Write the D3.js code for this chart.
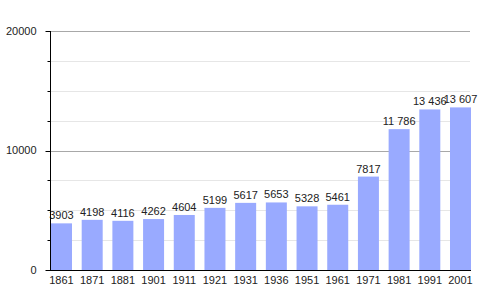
<!DOCTYPE html>
<html>
<head>
<meta charset="utf-8">
<script src="https://cdn.jsdelivr.net/npm/d3@7"></script>
<style>
  body { margin: 0; background: #fff; }
  text { font-family: "Liberation Sans", Arial, sans-serif; fill: #222; }
</style>
</head>
<body>
<div id="chart"></div>
<script>
// DATA
const years = ["1861", "1871", "1881", "1901", "1911", "1921", "1931", "1936", "1951", "1961", "1971", "1981", "1991", "2001"]
const population = [3903, 4198, 4116, 4262, 4604, 5199, 5617, 5653, 5328, 5461, 7817, 11786, 13436, 13607]
const majorTicks = [0, 10000, 20000]
const minorTicks = [2500, 5000, 7500, 12500, 15000, 17500]

// DIMENSIONS
const dimensions = {
  width: 500,
  height: 300,
  margin: { top: 31, right: 29, bottom: 30, left: 50 },
}

const wrapper = d3.select("#chart")
  .append("svg")
  .attr("width", dimensions.width)
  .attr("height", dimensions.height)

const xScale = d3.scaleBand()
  .domain(years)
  .range([dimensions.margin.left + 1, dimensions.width - dimensions.margin.right])
  .paddingInner(0.316)
  .paddingOuter(0)

const yScale = d3.scaleLinear()
  .domain([0, 20000])
  .range([dimensions.height - dimensions.margin.bottom, dimensions.margin.top])

const gridRight = dimensions.width - dimensions.margin.right - 1

// GRID
const grid = wrapper.append("g")
grid.selectAll("line.minor")
  .data(minorTicks)
  .join("line")
    .attr("class", "minor")
    .attr("x1", dimensions.margin.left)
    .attr("x2", gridRight)
    .attr("y1", d => Math.round(yScale(d)) + 0.5)
    .attr("y2", d => Math.round(yScale(d)) + 0.5)
    .attr("stroke", "#e6e6e6")
grid.selectAll("line.major")
  .data(majorTicks.filter(d => d > 0))
  .join("line")
    .attr("class", "major")
    .attr("x1", dimensions.margin.left)
    .attr("x2", gridRight)
    .attr("y1", d => Math.round(yScale(d)) + 0.5)
    .attr("y2", d => Math.round(yScale(d)) + 0.5)
    .attr("stroke", "#a8a8a8")

// BARS
wrapper.append("g")
  .selectAll("rect")
  .data(population)
  .join("rect")
    .attr("x", (d, i) => xScale(years[i]))
    .attr("y", d => yScale(d))
    .attr("width", xScale.bandwidth())
    .attr("height", d => yScale(0) - yScale(d))
    .attr("fill", "#99aaff")

// VALUE LABELS
const fmt = d => d >= 10000 ? d3.format(",")(d).replace(",", " ") : String(d)
wrapper.append("g")
  .selectAll("text")
  .data(population)
  .join("text")
    .attr("x", (d, i) => xScale(years[i]) + xScale.bandwidth() / 2)
    .attr("y", d => yScale(d) - 4)
    .attr("text-anchor", "middle")
    .style("font-size", "11px")
    .style("white-space", "pre")
    .text(fmt)

// Y AXIS
const yAxis = wrapper.append("g")
  .attr("transform", `translate(${dimensions.margin.left + 0.5},0)`)
yAxis.append("line")
  .attr("y1", yScale(20000))
  .attr("y2", yScale(0))
  .attr("stroke", "#000")
yAxis.selectAll("line.minor-tick")
  .data(minorTicks)
  .join("line")
    .attr("class", "minor-tick")
    .attr("x1", -3)
    .attr("x2", 0)
    .attr("y1", d => Math.round(yScale(d)) + 0.5)
    .attr("y2", d => Math.round(yScale(d)) + 0.5)
    .attr("stroke", "#000")
yAxis.selectAll("line.major-tick")
  .data(majorTicks)
  .join("line")
    .attr("class", "major-tick")
    .attr("x1", -5)
    .attr("x2", 0)
    .attr("y1", d => Math.round(yScale(d)) + 0.5)
    .attr("y2", d => Math.round(yScale(d)) + 0.5)
    .attr("stroke", "#000")
yAxis.selectAll("text")
  .data(majorTicks)
  .join("text")
    .attr("x", -14)
    .attr("y", d => yScale(d))
    .attr("dy", "0.35em")
    .attr("text-anchor", "end")
    .style("font-size", "11px")
    .text(d => d)

// X AXIS
const xAxis = wrapper.append("g")
  .attr("transform", `translate(0,${yScale(0) + 0.5})`)
xAxis.append("line")
  .attr("x1", dimensions.margin.left)
  .attr("x2", dimensions.width - dimensions.margin.right)
  .attr("stroke", "#000")
xAxis.selectAll("text")
  .data(years)
  .join("text")
    .attr("x", d => xScale(d) + xScale.bandwidth() / 2)
    .attr("y", 13)
    .attr("text-anchor", "middle")
    .style("font-size", "11px")
    .text(d => d)
</script>
</body>
</html>
